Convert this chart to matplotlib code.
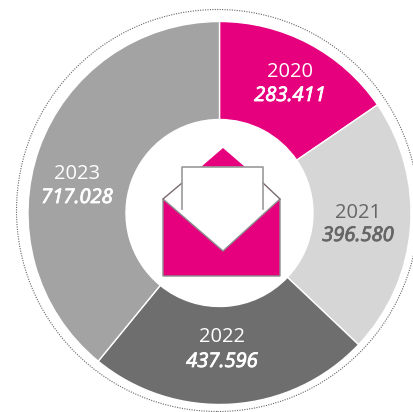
import matplotlib
matplotlib.use("Agg")
import matplotlib.pyplot as plt
import matplotlib.patheffects as pe
from matplotlib.patches import Circle, Polygon

years = ["2020", "2021", "2022", "2023"]
values = [283411, 396580, 437596, 717028]
value_labels = ["283.411", "396.580", "437.596", "717.028"]
colors = ["#E6007E", "#D6D6D6", "#6E6E6E", "#A3A3A3"]
text_colors = ["white", "#666666", "white", "white"]
label_px = [(290, 71, 96), (358, 212, 236), (222, 336, 362), (77, 173, 198)]

W, H = 414, 412
fig = plt.figure(figsize=(W / 100, H / 100), dpi=100)
ax = fig.add_axes([0, 0, 1, 1])
ax.axis("off")
Y = lambda y: H - y

cx, cy = 219.5, Y(213)
ax.pie(values, center=(cx, cy), radius=191.5, startangle=90, counterclock=False,
       colors=colors, wedgeprops=dict(width=98, edgecolor="white", linewidth=1.0))
ax.set_xlim(0, W)
ax.set_ylim(0, H)
ax.set_aspect("equal")
ax.add_patch(Circle((217.5, Y(210.5)), 201, fill=False, ec="#666666", lw=0.8, ls=(0, (1, 1.2))))

font = "Open Sans"
for (x, y1, y2), yr, val, c in zip(label_px, years, value_labels, text_colors):
    ax.text(x, Y(y1 + 1), yr, ha="center", va="center", fontsize=14.5, color=c, family=font)
    ax.text(x, Y(y2), val, ha="center", va="center", fontsize=14.5, color=c,
            family=font, style="italic",
            path_effects=[pe.withStroke(linewidth=0.6, foreground=c)])

edge = "#8C8C8C"
pt = lambda pts: [(x, Y(y)) for x, y in pts]
ax.add_patch(Polygon(pt([(223, 148), (245, 167), (201, 167)]), fc="#E6007E", ec="none"))
ax.add_patch(Polygon(pt([(163, 199), (223, 251), (280, 199), (280, 276), (163, 276)]),
                     fc="#E6007E", ec=edge, lw=1))
ax.plot(*zip(*pt([(163, 199), (182, 183)])), color="#7A6A70", lw=1)
ax.plot(*zip(*pt([(263, 183), (280, 199)])), color="#7A6A70", lw=1)
ax.plot(*zip(*pt([(182, 209), (182, 167), (263, 167), (263, 209)])), color="#999999", lw=1.2)

fig.savefig("out.png", dpi=100)
